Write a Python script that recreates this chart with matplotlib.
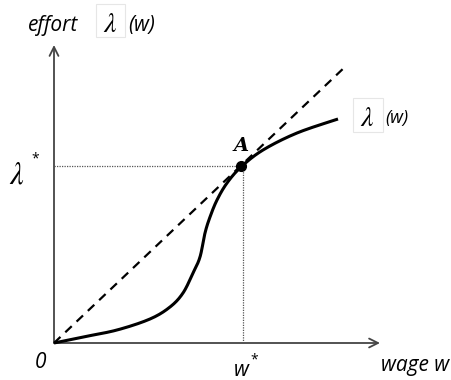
import numpy as np
import matplotlib
matplotlib.use("Agg")
import matplotlib.pyplot as plt
from matplotlib.patches import FancyArrowPatch, Rectangle

# data (arbitrary wage / effort units)
curve_w = [0, 29, 63, 96, 116, 129, 139, 146, 151, 156, 163, 173, 187, 209, 243, 284]
curve_e = [0, 6, 13, 24, 36, 50, 70, 86, 110, 126, 143, 160, 176, 193, 210, 224]
diag_w = [0, 293]
diag_e = [0, 278]
w_star = 189
lam_star = 177
x_max = 326
y_max = 298

def catmull(xs, ys, n=20):
    P = np.column_stack([xs, ys]).astype(float)
    P = np.vstack([P[0], P, P[-1]])
    out = []
    for i in range(1, len(P) - 2):
        p0, p1, p2, p3 = P[i-1], P[i], P[i+1], P[i+2]
        t = np.linspace(0, 1, n, endpoint=False)[:, None]
        pts = 0.5 * ((2*p1) + (-p0 + p2)*t + (2*p0 - 5*p1 + 4*p2 - p3)*t**2 + (-p0 + 3*p1 - 3*p2 + p3)*t**3)
        out.append(pts)
    out.append(P[-2][None, :])
    out = np.vstack(out)
    return out[:, 0], out[:, 1]

fig = plt.figure(figsize=(4.52, 3.80), dpi=100)
ax = fig.add_axes([0, 0, 1, 1])
ax.set_xlim(-54, 398)
ax.set_ylim(-37, 343)
ax.axis('off')

# axes arrows
axc = '#444444'
ax.add_patch(FancyArrowPatch((0, 0), (x_max, 0), arrowstyle='->', mutation_scale=16, lw=1.3, color=axc, shrinkA=0, shrinkB=0))
ax.add_patch(FancyArrowPatch((0, 0), (0, y_max), arrowstyle='->', mutation_scale=16, lw=1.3, color=axc, shrinkA=0, shrinkB=0))

# dotted guides
ax.plot([0, w_star], [lam_star, lam_star], color='#555555', lw=0.9, ls=(0, (1, 1)))
ax.plot([w_star, w_star], [0, lam_star], color='#555555', lw=0.9, ls=(0, (1, 1)))

# diagonal
ax.plot(diag_w, diag_e, color='black', lw=1.6, ls=(0, (4, 3)))

# curve
cx, cy = catmull(curve_w, curve_e)
ax.plot(cx, cy, color='black', lw=2.2, solid_capstyle='butt')

# point A
ax.plot([187], [lam_star], 'o', color='black', ms=7)
ax.text(187, 188, 'A', fontsize=14, fontweight='bold', style='italic', family='DejaVu Serif', ha='center', va='bottom')

fs = 15
ff = 'Open Sans'
boxc = '#e6e6e6'
# y label
ax.text(-26, 318, 'effort', fontsize=fs, style='italic', family=ff, ha='left', va='center')
ax.add_patch(Rectangle((42, 306), 29, 33, fill=False, ec=boxc, lw=0.8))
ax.text(56, 319, r'$\mathit{\lambda}$', fontsize=20, ha='center', va='center', math_fontfamily='stix')
ax.text(74, 318, '(w)', fontsize=fs, style='italic', family=ff, ha='left', va='center')

# curve label
ax.add_patch(Rectangle((299, 211), 30, 34, fill=False, ec=boxc, lw=0.8))
ax.text(313, 225, r'$\mathit{\lambda}$', fontsize=20, ha='center', va='center', math_fontfamily='stix')
ax.text(331, 225, '(w)', fontsize=13, style='italic', family=ff, ha='left', va='center')

# lambda star
ax.text(-37, 168, r'$\mathit{\lambda}$', fontsize=22, ha='center', va='center', math_fontfamily='stix')
ax.text(-23, 184, '*', fontsize=10, family=ff, ha='left', va='center')

# zero, w star, wage w
ax.text(-13, -19, '0', fontsize=fs, style='italic', family=ff, ha='center', va='center')
ax.text(187, -27, 'w', fontsize=fs, style='italic', family=ff, ha='center', va='center')
ax.text(196, -17, '*', fontsize=10, family=ff, ha='left', va='center')
ax.text(395, -22, 'wage w', fontsize=fs, style='italic', family=ff, ha='right', va='center')

fig.savefig('out.png', dpi=100)
